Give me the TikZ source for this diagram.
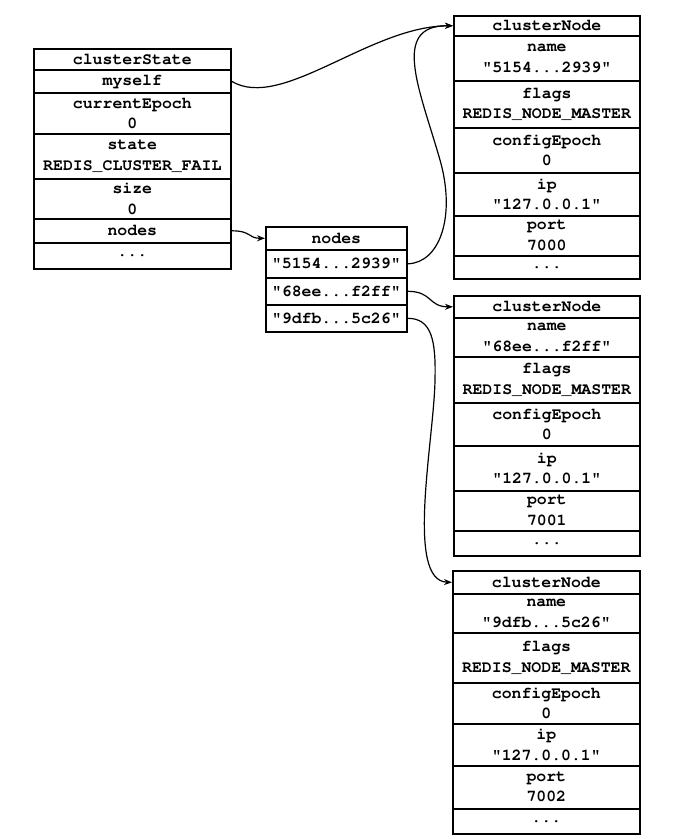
\documentclass[tikz,border=0pt]{standalone}
\usepackage[T1]{fontenc}
\usepackage{courier}
\usetikzlibrary{arrows.meta}
\tikzset{
  cell/.style={draw, line width=1.6bp, inner sep=0pt, anchor=north west, align=center,
    font=\ttfamily\bfseries\fontsize{16.5bp}{20.5bp}\selectfont},
  link/.style={line width=1.2bp, -{Stealth[length=8bp,width=6bp]}}
}
\newcommand\mkcell[6]{\node[cell, minimum width=#4bp, text width=#4bp, minimum height=#5bp] (#1) at (#2,#3) {#6};}
\begin{document}
\begin{tikzpicture}[x=1bp,y=-1bp]
\useasboundingbox (0,0) rectangle (688,839);
% clusterState
\mkcell{csh}{33}{48}{197}{21}{clusterState}
\mkcell{csm}{33}{69}{197}{23}{myself}
\mkcell{cse}{33}{92}{197}{41}{currentEpoch\\0}
\mkcell{css}{33}{133}{197}{45}{state\\REDIS\_CLUSTER\_FAIL}
\mkcell{csz}{33}{178}{197}{40}{size\\0}
\mkcell{csn}{33}{218}{197}{24}{nodes}
\mkcell{csd}{33}{242}{197}{26}{...}
% nodes dict
\mkcell{ndh}{265}{226}{141}{23}{nodes}
\mkcell{nda}{265}{249}{141}{28}{"5154...2939"}
\mkcell{ndb}{265}{277}{141}{27}{"68ee...f2ff"}
\mkcell{ndc}{265}{304}{141}{27}{"9dfb...5c26"}
% clusterNode 1
\mkcell{aah}{453}{15}{186}{20}{clusterNode}
\mkcell{aan}{453}{35}{186}{45}{name\\"5154...2939"}
\mkcell{aaf}{453}{80}{186}{47}{flags\\REDIS\_NODE\_MASTER}
\mkcell{aac}{453}{127}{186}{45}{configEpoch\\0}
\mkcell{aai}{453}{172}{186}{43}{ip\\"127.0.0.1"}
\mkcell{aap}{453}{215}{186}{40}{port\\7000}
\mkcell{aad}{453}{255}{186}{23}{...}
% clusterNode 2
\mkcell{bbh}{453}{295}{186}{22}{clusterNode}
\mkcell{bbn}{453}{317}{186}{39}{name\\"68ee...f2ff"}
\mkcell{bbf}{453}{356}{186}{46}{flags\\REDIS\_NODE\_MASTER}
\mkcell{bbc}{453}{402}{186}{43}{configEpoch\\0}
\mkcell{bbi}{453}{445}{186}{45}{ip\\"127.0.0.1"}
\mkcell{bbp}{453}{490}{186}{40}{port\\7001}
\mkcell{bbd}{453}{530}{186}{25}{...}
% clusterNode 3
\mkcell{cch}{452}{570}{187}{23}{clusterNode}
\mkcell{ccn}{452}{593}{187}{39}{name\\"9dfb...5c26"}
\mkcell{ccf}{452}{632}{187}{50}{flags\\REDIS\_NODE\_MASTER}
\mkcell{ccc}{452}{682}{187}{41}{configEpoch\\0}
\mkcell{cci}{452}{723}{187}{42}{ip\\"127.0.0.1"}
\mkcell{ccp}{452}{765}{187}{43}{port\\7002}
\mkcell{ccd}{452}{808}{187}{25}{...}
% links
\draw[link] (csm.east) .. controls +(50,30) and +(-83,0) .. (aah.west);
\coordinate (ka) at (440,160);
\draw[link] (nda.east) .. controls (440,263) and (456,216) .. (ka)
  .. controls (420,90) and (390,25) .. (aah.west);
\draw[link] (ndb.east) .. controls +(25,0) and +(-25,0) .. (bbh.west);
\coordinate (kc) at (435,380);
\draw[link] (ndc.east) .. controls +(24,0) and (436,340) .. (kc)
  .. controls (434,440) and (405,581) .. (cch.west);
\draw[link] (csn.east) .. controls +(20,0) and +(-17,0) .. (ndh.west);
\end{tikzpicture}
\end{document}
